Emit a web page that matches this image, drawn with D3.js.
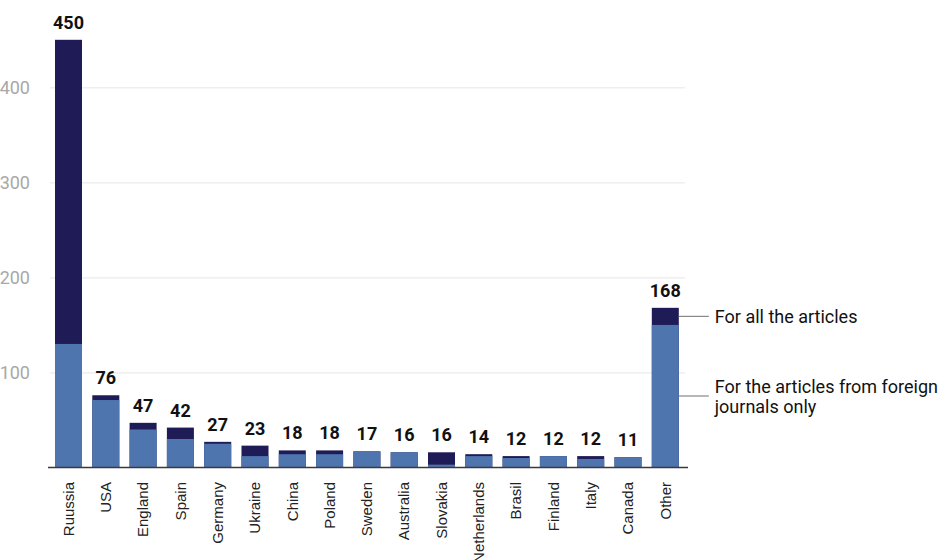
<!DOCTYPE html>
<html>
<head>
<meta charset="utf-8">
<script src="https://cdn.jsdelivr.net/npm/d3@7/dist/d3.min.js"></script>
<style>
  html, body { margin: 0; padding: 0; background: #fff; }
  svg { display: block; }
</style>
</head>
<body>
<svg id="chart" width="942" height="560"></svg>
<script>
// Countries of the publications
const countries = ["Ruussia", "USA", "England", "Spain", "Germany", "Ukraine", "China", "Poland",
  "Sweden", "Australia", "Slovakia", "Netherlands", "Brasil", "Finland", "Italy", "Canada", "Other"];
// Totals for all the articles (dark bars, labelled)
const allArticles = [450, 76, 47, 42, 27, 23, 18, 18, 17, 16, 16, 14, 12, 12, 12, 11, 168];
// Articles from foreign journals only (light bars)
const foreignOnly = [130, 71, 40, 30, 25, 12, 14, 14, 17, 16, 3, 12, 10, 12, 9, 11, 150];
const yTicks = [100, 200, 300, 400];
const legendLabels = ["For all the articles", ["For the articles from foreign", "journals only"]];

const darkColor = "#1e1b56";
const lightColor = "#4f75ae";

const svg = d3.select("#chart");

const x = d3.scaleBand()
  .domain(countries)
  .range([44.7, 689.1])
  .paddingInner(0.276)
  .paddingOuter(0.276);

const y = d3.scaleLinear()
  .domain([0, 450])
  .range([467.5, 39.8]);

// Horizontal grid lines and tick labels
const yAxis = d3.axisLeft(y)
  .tickValues(yTicks)
  .tickSize(-635)
  .tickPadding(10)
  .tickFormat(d3.format("d"));

const gy = svg.append("g")
  .attr("transform", "translate(50,0)")
  .call(yAxis);
gy.select(".domain").remove();
gy.selectAll(".tick line").attr("stroke", "#e6e6e6").attr("stroke-width", 1);
gy.selectAll(".tick text")
  .attr("fill", "#a8a8a8")
  .attr("dx", -10)
  .style("font-family", "Roboto, sans-serif")
  .style("font-size", "18px");

const rows = countries.map((c, i) => ({ country: c, total: allArticles[i], foreign: foreignOnly[i] }));

// Dark bars: all the articles
svg.append("g").selectAll("rect")
  .data(rows)
  .join("rect")
  .attr("x", d => x(d.country))
  .attr("width", x.bandwidth())
  .attr("y", d => y(d.total))
  .attr("height", d => y(0) - y(d.total))
  .attr("fill", darkColor);

// Light bars: foreign journals only
svg.append("g").selectAll("rect")
  .data(rows)
  .join("rect")
  .attr("x", d => x(d.country))
  .attr("width", x.bandwidth())
  .attr("y", d => y(d.foreign))
  .attr("height", d => y(0) - y(d.foreign))
  .attr("fill", lightColor);

// Value labels above the bars
svg.append("g").selectAll("text")
  .data(rows)
  .join("text")
  .attr("x", d => x(d.country) + x.bandwidth() / 2)
  .attr("y", d => y(d.total) - 11)
  .attr("text-anchor", "middle")
  .attr("fill", "#111")
  .style("font-family", "Roboto, sans-serif")
  .style("font-weight", "700")
  .style("font-size", "18px")
  .text(d => d.total);

// Baseline and category labels
const xAxis = d3.axisBottom(x).tickSize(0).tickPadding(0);
const gx = svg.append("g")
  .attr("transform", `translate(0,${y(0)})`)
  .call(xAxis);
gx.select(".domain").remove();
svg.append("line")
  .attr("x1", 48).attr("x2", 688)
  .attr("y1", y(0)).attr("y2", y(0))
  .attr("stroke", "#3a3a3a").attr("stroke-width", 1.6);
gx.selectAll(".tick text")
  .attr("transform", "rotate(-90)")
  .attr("x", -14.5)
  .attr("y", 0)
  .attr("dy", "0.35em")
  .attr("text-anchor", "end")
  .attr("fill", "#222")
  .style("font-family", "'Liberation Sans', Arial, sans-serif")
  .style("font-size", "15px");

// Legend callouts attached to the last bar
const last = rows[rows.length - 1];
const lx0 = x(last.country) + x.bandwidth();
const legend = svg.append("g")
  .style("font-family", "Roboto, sans-serif")
  .style("font-size", "18px")
  .attr("fill", "#111");

const yDark = (y(last.total) + y(last.foreign)) / 2;
legend.append("line")
  .attr("x1", lx0).attr("x2", lx0 + 30)
  .attr("y1", yDark).attr("y2", yDark)
  .attr("stroke", "#888").attr("stroke-width", 1.2);
legend.append("text")
  .attr("x", lx0 + 36).attr("y", yDark)
  .attr("dy", "0.35em")
  .text(legendLabels[0]);

const yLight = 396;
legend.append("line")
  .attr("x1", lx0).attr("x2", lx0 + 30)
  .attr("y1", yLight).attr("y2", yLight)
  .attr("stroke", "#888").attr("stroke-width", 1.2);
legend.append("text")
  .attr("x", lx0 + 36).attr("y", yLight - 3)
  .text(legendLabels[1][0]);
legend.append("text")
  .attr("x", lx0 + 36).attr("y", yLight + 17)
  .text(legendLabels[1][1]);
</script>
</body>
</html>
